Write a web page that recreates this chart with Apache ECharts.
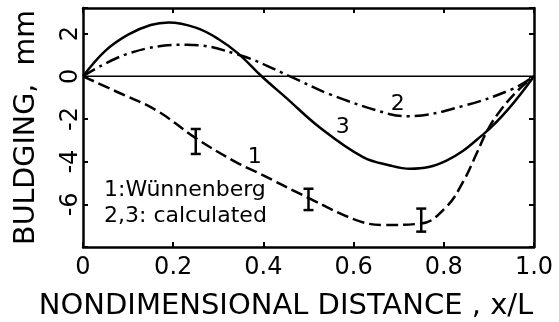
<!DOCTYPE html>
<html>
<head>
<meta charset="utf-8">
<script src="https://cdn.jsdelivr.net/npm/echarts@6/dist/echarts.min.js"></script>
<style>
  html, body { margin: 0; padding: 0; background: #fff; }
  #chart { width: 559px; height: 322px; }
</style>
</head>
<body>
<div id="chart"></div>
<script>
// values, x is x/L, y is bulging in mm
const curve1 = [[0, 0], [0.067, -0.65], [0.163, -1.6], [0.25, -2.9], [0.337, -4.0], [0.385, -4.49],
  [0.503, -5.73], [0.606, -6.74], [0.665, -6.97], [0.75, -6.9], [0.806, -6.11], [0.843, -4.94],
  [0.873, -3.61], [0.895, -2.6], [0.921, -1.73], [0.96, -0.75], [1, 0]];
const curve2 = [[0, 0], [0.104, 1.09], [0.23, 1.48], [0.345, 1.01], [0.459, 0], [0.548, -0.85],
  [0.681, -1.78], [0.72, -1.87], [0.843, -1.39], [0.954, -0.58], [1, 0]];
const curve3 = [[0, 0], [0.05, 1.2], [0.1, 1.95], [0.15, 2.4], [0.19, 2.52], [0.25, 2.28],
  [0.3, 1.75], [0.345, 1.05], [0.396, 0], [0.45, -1.0], [0.525, -2.4], [0.621, -3.79], [0.681, -4.18],
  [0.725, -4.33], [0.806, -3.95], [0.888, -2.71], [0.943, -1.54], [1, 0]];
// error bars of curve 1: x, upper, lower
const errorBars = [[0.25, -2.47, -3.64], [0.5, -5.27, -6.27], [0.75, -6.2, -7.28]];
// curve numbers written next to the lines
const tagNames = ['1', '2', '3'];
const tagPos = [[0.381, -3.78], [0.698, -1.31], [0.576, -2.38]];
const legendLines = ['1:Wünnenberg', '2,3: calculated'];
const xName = 'NONDIMENSIONAL DISTANCE , x/L';
const yName = 'BULDGING,  mm';

const font = 'DejaVu Sans';
const black = '#000';

const chart = echarts.init(document.getElementById('chart'));

const frameLine = { show: true, onZero: false, lineStyle: { color: black, width: 2.5 } };
const ticks = { show: true, inside: true, length: 5, lineStyle: { color: black, width: 2 } };

const option = {
  animation: false,
  grid: { left: 83, right: 25, top: 8, bottom: 75 },
  xAxis: [
    {
      type: 'value', min: 0, max: 1, interval: 0.2, position: 'bottom',
      axisLine: frameLine, axisTick: ticks, splitLine: { show: false },
      axisLabel: {
        color: black, fontFamily: font, fontSize: 24, margin: 9,
        formatter: v => v === 0 ? '0' : v.toFixed(1)
      }
    },
    {
      type: 'value', min: 0, max: 1, interval: 0.2, position: 'top',
      axisLine: frameLine, axisTick: ticks, splitLine: { show: false },
      axisLabel: { show: false }
    }
  ],
  yAxis: [
    {
      type: 'value', min: -8, max: 3.2, interval: 2, position: 'left',
      axisLine: frameLine, axisTick: ticks, splitLine: { show: false },
      axisLabel: {
        color: black, fontFamily: font, fontSize: 24, rotate: 90, margin: 0,
        formatter: v => (v > -7 && v < 3 && v % 2 === 0) ? String(v) : ''
      },
      name: yName, nameLocation: 'middle', nameGap: 42,
      nameTextStyle: { color: black, fontFamily: font, fontSize: 28.5 }
    },
    {
      type: 'value', min: -8, max: 3.2, interval: 2, position: 'right',
      axisLine: frameLine, axisTick: ticks, splitLine: { show: false },
      axisLabel: { show: false }
    }
  ],
  series: [
    {
      name: 'zero', type: 'line', data: [[0, 0], [1, 0]], symbol: 'none',
      lineStyle: { color: black, width: 1.5 }, silent: true
    },
    {
      name: '1', type: 'line', data: curve1, smooth: 0.4, symbol: 'none',
      lineStyle: { color: black, width: 2.5, type: [12, 5] }
    },
    {
      name: '2', type: 'line', data: curve2, smooth: 0.4, symbol: 'none',
      lineStyle: { color: black, width: 2.5, type: [14, 5, 3, 5] }
    },
    {
      name: '3', type: 'line', data: curve3, smooth: 0.4, symbol: 'none',
      lineStyle: { color: black, width: 2.5 }
    },
    {
      name: 'error', type: 'custom', data: errorBars,
      renderItem: (params, api) => {
        const x = api.value(0);
        const top = api.coord([x, api.value(1)]);
        const bot = api.coord([x, api.value(2)]);
        const w = 5;
        const st = { stroke: black, lineWidth: 2.5 };
        return {
          type: 'group',
          children: [
            { type: 'line', shape: { x1: top[0], y1: top[1], x2: bot[0], y2: bot[1] }, style: st },
            { type: 'line', shape: { x1: top[0] - w, y1: top[1], x2: top[0] + w, y2: top[1] }, style: st },
            { type: 'line', shape: { x1: bot[0] - w, y1: bot[1], x2: bot[0] + w, y2: bot[1] }, style: st }
          ]
        };
      }
    }
  ]
};

chart.setOption(option);

// texts: axis title, legend box, and the curve numbers placed through the grid's scale
const texts = [
  { type: 'text', style: { text: xName, x: 286, y: 306, fill: black, font: '29px "DejaVu Sans"', align: 'center', verticalAlign: 'middle' } },
  { type: 'text', style: { text: legendLines[0], x: 104, y: 190, fill: black, font: '22px "DejaVu Sans"', align: 'left', verticalAlign: 'middle' } },
  { type: 'text', style: { text: legendLines[1], x: 104, y: 216, fill: black, font: '22px "DejaVu Sans"', align: 'left', verticalAlign: 'middle' } }
];
tagNames.forEach((t, i) => {
  const p = chart.convertToPixel({ gridIndex: 0 }, tagPos[i]);
  texts.push({
    type: 'text',
    style: { text: t, x: p[0], y: p[1], fill: black, font: '22px "DejaVu Sans"', align: 'center', verticalAlign: 'middle' }
  });
});
chart.setOption({ graphic: texts });
</script>
</body>
</html>
